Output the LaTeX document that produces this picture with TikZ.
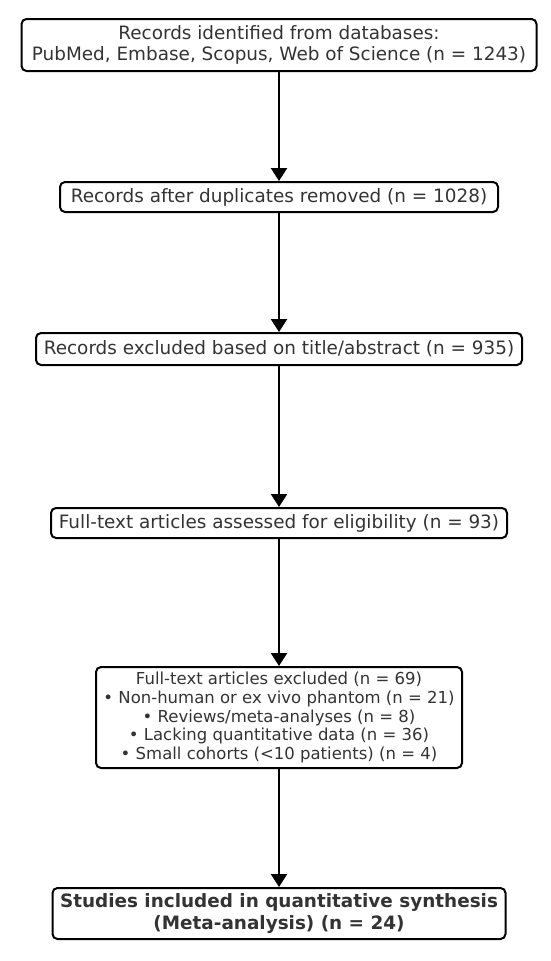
\documentclass[tikz,border=0pt]{standalone}
\usepackage{fontspec}
\setmainfont{DejaVu Sans}
\usetikzlibrary{arrows.meta}
\definecolor{txtgray}{HTML}{333333}
\tikzset{
	box/.style={draw,rectangle,rounded corners=5pt,line width=2pt,align=center,text=txtgray,inner sep=0pt,font=\fontsize{18.4}{21.5}\selectfont},
	small/.style={font=\fontsize{16.5}{18.8}\selectfont},
	strong/.style={font=\fontsize{18.4}{21.5}\selectfont\bfseries},
	flow/.style={-{Triangle[length=13pt,width=16pt]},line width=2.5pt}
}

\begin{document}
\begin{tikzpicture}[x=1pt,y=-1pt]
	\useasboundingbox (0,0) rectangle (550,961);
	\node[box,minimum width=515pt,minimum height=52pt] (ident) at (279,45) {Records identified from databases:\\PubMed, Embase, Scopus, Web of Science (n = 1243)};
	\node[box,minimum width=438pt,minimum height=30pt] (dedup) at (279,197) {Records after duplicates removed (n = 1028)};
	\node[box,minimum width=486pt,minimum height=32pt] (screen) at (279,349) {Records excluded based on title/abstract (n = 935)};
	\node[box,minimum width=456pt,minimum height=30pt] (elig) at (279,523) {Full-text articles assessed for eligibility (n = 93)};
	\node[box,small,minimum width=366pt,minimum height=101pt] (excl) at (279,717.5) {Full-text articles excluded (n = 69)\\
		• Non-human or ex vivo phantom (n = 21)\\
		• Reviews/meta-analyses (n = 8)\\
		• Lacking quantitative data (n = 36)\\
		• Small cohorts (<10 patients) (n = 4)};
	\node[box,strong,minimum width=453pt,minimum height=51pt] (incl) at (279,913.5) {Studies included in quantitative synthesis\\(Meta-analysis) (n = 24)};

	\draw[flow] (ident) -- (dedup);
	\draw[flow] (dedup) -- (screen);
	\draw[flow] (screen) -- (elig);
	\draw[flow] (elig) -- (excl);
	\draw[flow] (excl) -- (incl);
\end{tikzpicture}
\end{document}
